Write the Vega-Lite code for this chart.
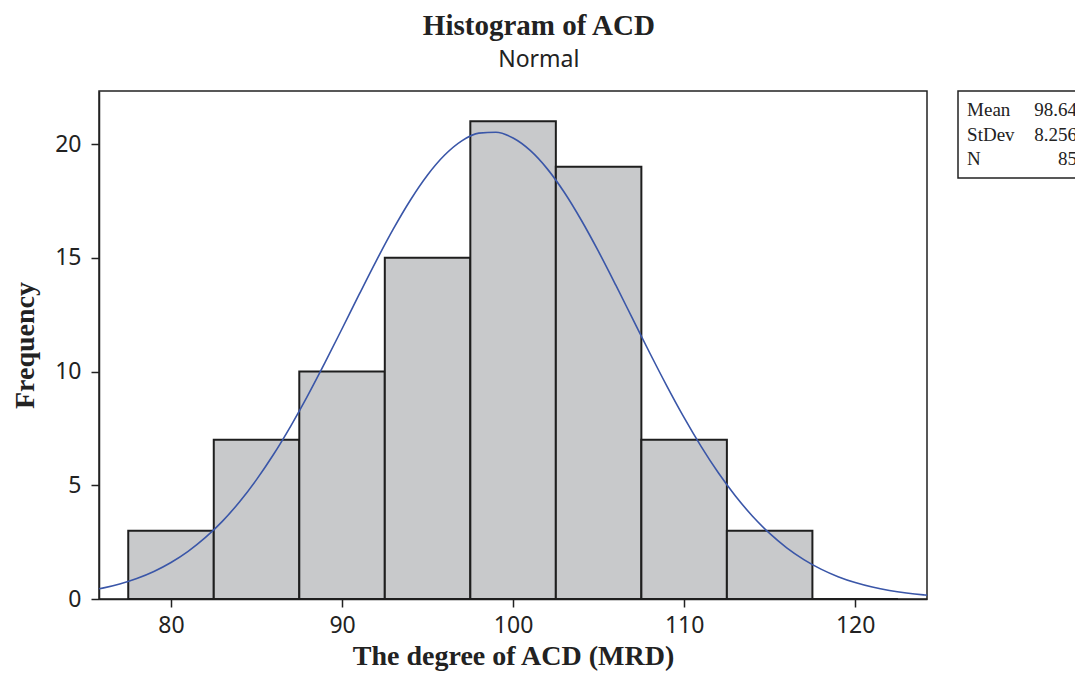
{
  "$schema": "https://vega.github.io/schema/vega-lite/v6.json",
  "background": "white",
  "padding": {"left": 10, "top": 12, "right": 0, "bottom": 0},
  "title": {
    "text": "Histogram of ACD",
    "subtitle": "Normal",
    "anchor": "middle",
    "dx": -11,
    "font": "Liberation Serif",
    "fontSize": 29,
    "fontWeight": "bold",
    "color": "#222",
    "subtitleFont": "Noto Sans",
    "subtitleFontSize": 23,
    "subtitleColor": "#222",
    "subtitlePadding": 8,
    "offset": 18
  },
  "datasets": {
    "bins": [
      {"bin_start": 77.5, "bin_end": 82.5, "count": 3},
      {"bin_start": 82.5, "bin_end": 87.5, "count": 7},
      {"bin_start": 87.5, "bin_end": 92.5, "count": 10},
      {"bin_start": 92.5, "bin_end": 97.5, "count": 15},
      {"bin_start": 97.5, "bin_end": 102.5, "count": 21},
      {"bin_start": 102.5, "bin_end": 107.5, "count": 19},
      {"bin_start": 107.5, "bin_end": 112.5, "count": 7},
      {"bin_start": 112.5, "bin_end": 117.5, "count": 3},
      {"bin_start": 117.5, "bin_end": 122.5, "count": 0}
    ],
    "curve": [
      {"x": 75.8, "y": 0.447}, {"x": 76, "y": 0.478}, {"x": 77, "y": 0.662}, {"x": 78, "y": 0.903},
      {"x": 79, "y": 1.212}, {"x": 80, "y": 1.606}, {"x": 81, "y": 2.095}, {"x": 82, "y": 2.695},
      {"x": 83, "y": 3.414}, {"x": 84, "y": 4.264}, {"x": 85, "y": 5.248}, {"x": 86, "y": 6.361},
      {"x": 87, "y": 7.602}, {"x": 88, "y": 8.951}, {"x": 89, "y": 10.387}, {"x": 90, "y": 11.88},
      {"x": 91, "y": 13.386}, {"x": 92, "y": 14.865}, {"x": 93, "y": 16.266}, {"x": 94, "y": 17.539},
      {"x": 95, "y": 18.638}, {"x": 96, "y": 19.515}, {"x": 97, "y": 20.139}, {"x": 98, "y": 20.478},
      {"x": 99, "y": 20.52}, {"x": 100, "y": 20.263}, {"x": 101, "y": 19.718}, {"x": 102, "y": 18.907},
      {"x": 103, "y": 17.868}, {"x": 104, "y": 16.637}, {"x": 105, "y": 15.267}, {"x": 106, "y": 13.805},
      {"x": 107, "y": 12.301}, {"x": 108, "y": 10.802}, {"x": 109, "y": 9.348}, {"x": 110, "y": 7.97},
      {"x": 111, "y": 6.698}, {"x": 112, "y": 5.546}, {"x": 113, "y": 4.525}, {"x": 114, "y": 3.64},
      {"x": 115, "y": 2.884}, {"x": 116, "y": 2.251}, {"x": 117, "y": 1.733}, {"x": 118, "y": 1.314},
      {"x": 119, "y": 0.982}, {"x": 120, "y": 0.723}, {"x": 121, "y": 0.525}, {"x": 122, "y": 0.375},
      {"x": 123, "y": 0.264}, {"x": 124, "y": 0.183}, {"x": 124.2, "y": 0.17}
    ],
    "stats": [
      {"stat": "Mean", "value": "98.64", "row": 1},
      {"stat": "StDev", "value": "8.256", "row": 2},
      {"stat": "N", "value": "85", "row": 3}
    ]
  },
  "hconcat": [
    {
      "width": 828,
      "height": 508,
      "view": {"stroke": "#222", "strokeWidth": 1.5},
      "layer": [
        {
          "data": {"name": "bins"},
          "mark": {"type": "bar", "fill": "#c8c9cb", "stroke": "#1e1e1e", "strokeWidth": 2},
          "encoding": {
            "x": {
              "field": "bin_start", "type": "quantitative",
              "scale": {"domain": [75.79, 124.2], "nice": false, "zero": false},
              "axis": {
                "values": [80, 90, 100, 110, 120],
                "title": "The degree of ACD (MRD)",
                "titleFont": "Liberation Serif", "titleFontSize": 28, "titleFontWeight": "bold", "titleColor": "#222",
                "titlePadding": 5,
                "labelFont": "Noto Sans", "labelFontSize": 23, "labelColor": "#222", "labelPadding": 7,
                "tickSize": 8, "tickColor": "#222", "tickWidth": 1.5,
                "domainColor": "#222", "domainWidth": 1.5, "grid": false
              }
            },
            "x2": {"field": "bin_end"},
            "y": {
              "field": "count", "type": "quantitative",
              "scale": {"domain": [0, 22.33], "nice": false},
              "axis": {
                "values": [0, 5, 10, 15, 20],
                "title": "Frequency",
                "titleFont": "Liberation Serif", "titleFontSize": 28, "titleFontWeight": "bold", "titleColor": "#222",
                "titlePadding": 15,
                "labelFont": "Noto Sans", "labelFontSize": 23, "labelColor": "#222", "labelPadding": 10,
                "tickSize": 8, "tickColor": "#222", "tickWidth": 1.5,
                "domainColor": "#222", "domainWidth": 1.5, "grid": false
              }
            },
            "y2": {"datum": 0}
          }
        },
        {
          "data": {"name": "curve"},
          "mark": {"type": "line", "color": "#3a56a8", "strokeWidth": 1.6, "interpolate": "monotone", "clip": true},
          "encoding": {
            "x": {"field": "x", "type": "quantitative"},
            "y": {"field": "y", "type": "quantitative"}
          }
        }
      ]
    },
    {
      "width": 130,
      "height": 87,
      "view": {"stroke": "#222", "strokeWidth": 1.5},
      "data": {"name": "stats"},
      "encoding": {
        "y": {"field": "row", "type": "ordinal", "scale": {"type": "point", "padding": 0.75}, "axis": null}
      },
      "layer": [
        {
          "mark": {"type": "text", "align": "left", "baseline": "middle", "font": "Liberation Serif", "fontSize": 19, "color": "#222"},
          "encoding": {
            "x": {"datum": 0.07, "type": "quantitative", "scale": {"domain": [0, 1]}, "axis": null},
            "text": {"field": "stat"}
          }
        },
        {
          "mark": {"type": "text", "align": "right", "baseline": "middle", "font": "Liberation Serif", "fontSize": 19, "color": "#222"},
          "encoding": {
            "x": {"datum": 0.915, "type": "quantitative"},
            "text": {"field": "value"}
          }
        }
      ]
    }
  ],
  "spacing": 29
}
